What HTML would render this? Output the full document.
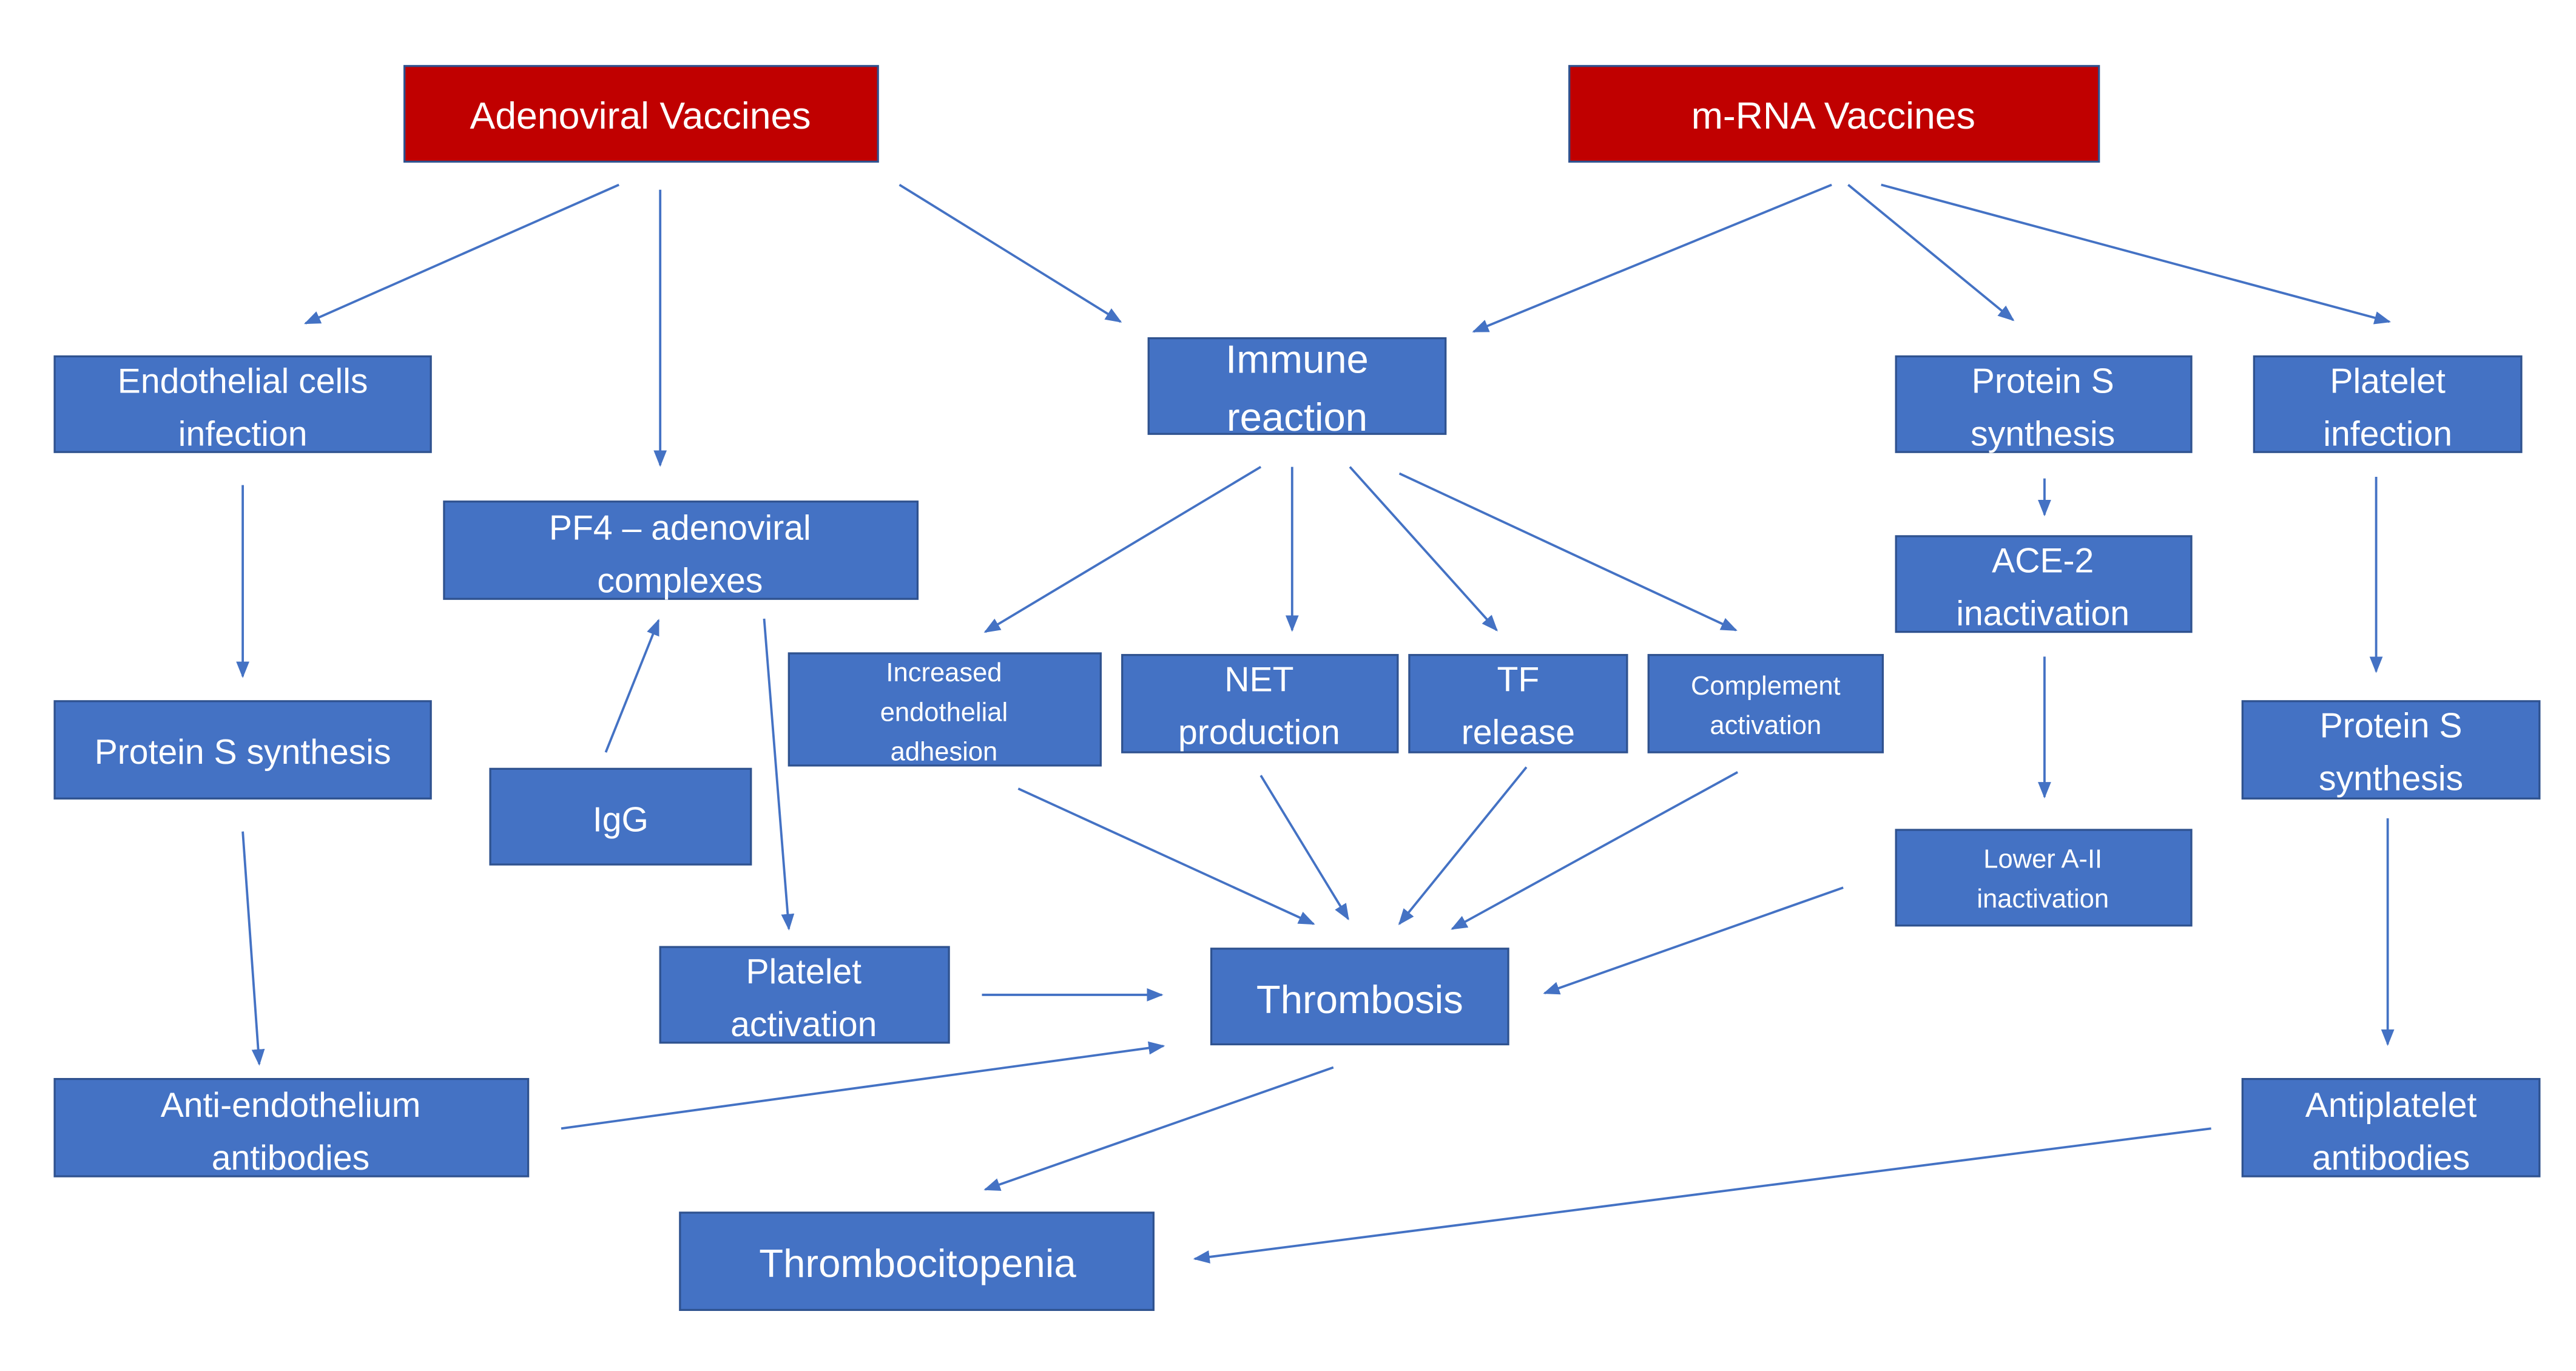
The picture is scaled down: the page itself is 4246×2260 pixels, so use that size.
<!DOCTYPE html>
<html><head><meta charset="utf-8"><style>
html,body{margin:0;padding:0;background:#fff;}
svg{display:block;}
text{font-family:"Liberation Sans Narrow","Liberation Sans",sans-serif;fill:#fff;text-anchor:middle;}
</style></head><body>
<svg width="4246" height="2260" viewBox="0 0 1561 831" xmlns="http://www.w3.org/2000/svg">
<defs><marker id="a" markerWidth="10" markerHeight="10" refX="9" refY="4.5" orient="auto" markerUnits="userSpaceOnUse"><path d="M0,0.5 L10,4.5 L0,8.5 z" fill="#4472C4"/></marker></defs>
<rect width="1561" height="831" fill="#fff"/>
<g fill="#C00000" stroke="#2F528F" stroke-width="1.2">
<rect x="245" y="40" width="287" height="58"/>
<rect x="951" y="40" width="321" height="58"/>
</g>
<g fill="#4472C4" stroke="#2F528F" stroke-width="1.2">
<rect x="33" y="216" width="228" height="58"/>
<rect x="269" y="304" width="287" height="59"/>
<rect x="696" y="205" width="180" height="58"/>
<rect x="1149" y="216" width="179" height="58"/>
<rect x="1366" y="216" width="162" height="58"/>
<rect x="1149" y="325" width="179" height="58"/>
<rect x="478" y="396" width="189" height="68"/>
<rect x="680" y="397" width="167" height="59"/>
<rect x="854" y="397" width="132" height="59"/>
<rect x="999" y="397" width="142" height="59"/>
<rect x="33" y="425" width="228" height="59"/>
<rect x="297" y="466" width="158" height="58"/>
<rect x="1149" y="503" width="179" height="58"/>
<rect x="1359" y="425" width="180" height="59"/>
<rect x="400" y="574" width="175" height="58"/>
<rect x="734" y="575" width="180" height="58"/>
<rect x="33" y="654" width="287" height="59"/>
<rect x="1359" y="654" width="180" height="59"/>
<rect x="412" y="735" width="287" height="59"/>
</g>
<g font-size="23">
<text x="388" y="78">Adenoviral Vaccines</text>
<text x="1111" y="78">m-RNA Vaccines</text>
</g>
<g font-size="21">
<text x="147" y="238">Endothelial cells</text><text x="147" y="270">infection</text>
<text x="412" y="327">PF4 – adenoviral</text><text x="412" y="359">complexes</text>
<text x="1238" y="238">Protein S</text><text x="1238" y="270">synthesis</text>
<text x="1447" y="238">Platelet</text><text x="1447" y="270">infection</text>
<text x="1238" y="347">ACE-2</text><text x="1238" y="379">inactivation</text>
<text x="763" y="419">NET</text><text x="763" y="451">production</text>
<text x="920" y="419">TF</text><text x="920" y="451">release</text>
<text x="147" y="463">Protein S synthesis</text>
<text x="376" y="504">IgG</text>
<text x="1449" y="447">Protein S</text><text x="1449" y="479">synthesis</text>
<text x="487" y="596">Platelet</text><text x="487" y="628">activation</text>
<text x="176" y="677">Anti-endothelium</text><text x="176" y="709">antibodies</text>
<text x="1449" y="677">Antiplatelet</text><text x="1449" y="709">antibodies</text>
</g>
<g font-size="24">
<text x="786" y="226">Immune</text><text x="786" y="261">reaction</text>
<text x="824" y="614">Thrombosis</text>
<text x="556" y="774">Thrombocitopenia</text>
</g>
<g font-size="16">
<text x="572" y="413">Increased</text><text x="572" y="437">endothelial</text><text x="572" y="461">adhesion</text>
<text x="1070" y="421">Complement</text><text x="1070" y="445">activation</text>
<text x="1238" y="526">Lower A-II</text><text x="1238" y="550">inactivation</text>
</g>
<g stroke="#4472C4" stroke-width="1.4" fill="none" marker-end="url(#a)">
<line x1="375" y1="112" x2="185" y2="196"/>
<line x1="400" y1="115" x2="400" y2="282"/>
<line x1="545" y1="112" x2="679" y2="195"/>
<line x1="1110" y1="112" x2="893" y2="201"/>
<line x1="1120" y1="112" x2="1220" y2="194"/>
<line x1="1140" y1="112" x2="1448" y2="195"/>
<line x1="147" y1="294" x2="147" y2="410"/>
<line x1="1239" y1="290" x2="1239" y2="312"/>
<line x1="1440" y1="289" x2="1440" y2="407"/>
<line x1="764" y1="283" x2="597" y2="383"/>
<line x1="783" y1="283" x2="783" y2="382"/>
<line x1="818" y1="283" x2="907" y2="382"/>
<line x1="848" y1="287" x2="1052" y2="382"/>
<line x1="1239" y1="398" x2="1239" y2="483"/>
<line x1="367" y1="456" x2="399" y2="376"/>
<line x1="463" y1="375" x2="478" y2="563"/>
<line x1="617" y1="478" x2="796" y2="560"/>
<line x1="764" y1="470" x2="817" y2="557"/>
<line x1="925" y1="465" x2="848" y2="560"/>
<line x1="1053" y1="468" x2="880" y2="563"/>
<line x1="1117" y1="538" x2="936" y2="602"/>
<line x1="595" y1="603" x2="704" y2="603"/>
<line x1="147" y1="504" x2="157" y2="645"/>
<line x1="340" y1="684" x2="705" y2="634"/>
<line x1="808" y1="647" x2="597" y2="721"/>
<line x1="1447" y1="496" x2="1447" y2="633"/>
<line x1="1340" y1="684" x2="724" y2="763"/>
</g>
</svg>
</body></html>
